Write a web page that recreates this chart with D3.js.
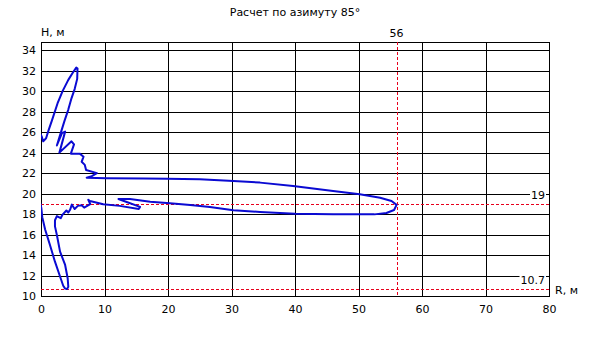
<!DOCTYPE html>
<html>
<head>
<meta charset="utf-8">
<script src="https://cdn.jsdelivr.net/npm/d3@7"></script>
<style>
  body { margin: 0; background: #fff; }
  text { font-family: "DejaVu Sans", sans-serif; font-size: 11px; fill: #000; }
</style>
</head>
<body>
<div id="canvas"></div>
<script>
"use strict"

/* Data */
let xTicks = [0, 10, 20, 30, 40, 50, 60, 70, 80];
let yTicks = [10, 12, 14, 16, 18, 20, 22, 24, 26, 28, 30, 32, 34];
let markR = [56];
let markH = [19, 10.7];

/* pattern outline, R (m) and H (m), walked round once */
let patternR = [0.1, 0.35, 0.8, 1.2, 1.7, 2.6, 3.4, 4.3, 5.0, 5.55,
    5.75, 5.7, 5.3, 4.8, 4.3, 3.7, 3.1, 2.5, 3.3, 3.8,
    2.9, 4.8, 5.2, 4.7, 6.1, 6.7, 6.4, 6.9, 7.1, 8.8,
    8.0, 7.2, 10.3, 16.1, 19.8, 25.0, 30.3, 34.5, 39.7, 46.0,
    50.2, 53.4, 55.2, 56.0, 55.6, 54.4, 52.5, 46.0, 40.0, 34.5,
    30.3, 26.6, 23.5, 20.3, 17.2, 14.0, 12.2, 13.6, 15.6, 15.4,
    12.4, 9.8, 7.7, 7.45, 7.75, 6.8, 6.4, 5.8, 5.3, 4.85,
    4.6, 4.3, 4.0, 3.4, 3.1, 2.5, 2.2, 2.2, 2.5, 3.0,
    3.8, 4.2, 4.3, 4.1, 3.8, 3.5, 3.0, 2.2, 1.4, 0.65,
    0.2, 0.05, -0.2, -2.5, -0.2];
let patternH = [25.6, 25.1, 25.4, 26.2, 27.1, 28.8, 30.0, 31.1, 31.8, 32.3,
    32.2, 31.2, 30.2, 29.3, 28.2, 27.1, 25.9, 24.7, 25.9, 26.05,
    24.0, 25.1, 24.8, 23.9, 23.9, 23.6, 23.1, 22.8, 22.3, 22.0,
    21.7, 21.55, 21.5, 21.47, 21.45, 21.4, 21.23, 21.07, 20.75, 20.25,
    19.93, 19.6, 19.28, 18.9, 18.4, 18.1, 17.97, 17.97, 18.02, 18.2,
    18.38, 18.7, 18.89, 19.05, 19.2, 19.47, 19.47, 19.15, 18.7, 18.5,
    18.8, 18.95, 19.28, 19.4, 18.98, 18.63, 18.85, 18.8, 18.5, 18.92,
    18.45, 18.15, 18.35, 17.95, 17.6, 17.8, 17.4, 16.8, 15.96, 14.33,
    13.03, 11.73, 10.9, 10.68, 10.72, 11.0, 11.9, 13.35, 15.0, 16.5,
    17.7, 18.6, 19.3, 22.5, 25.9];

let drawing = d3.select("#canvas")
    .append("svg")
    .attr("width", 590)
    .attr("height", 337);

/* Plot box */
let boxLeft = 41, boxRight = 549, boxTop = 42, boxBottom = 296;

let x = d3.scaleLinear().domain([0, 80]).range([boxLeft, boxRight]);
let y = d3.scaleLinear().domain([10, 34.8]).range([boxBottom, boxTop]);

/* Title and axis names */
drawing.append("text")
    .attr("x", 295)
    .attr("y", 16)
    .attr("text-anchor", "middle")
    .text("Расчет по азимуту 85°");

drawing.append("text")
    .attr("x", 41)
    .attr("y", 36)
    .text("H, м");

drawing.append("text")
    .attr("x", 555)
    .attr("y", 294)
    .text("R, м");

/* Grid */
let crisp = v => Math.round(v) + 0.5;

drawing.append("g").selectAll("line")
    .data(xTicks)
    .join("line")
    .attr("x1", d => crisp(x(d)))
    .attr("x2", d => crisp(x(d)))
    .attr("y1", boxTop)
    .attr("y2", boxBottom)
    .attr("stroke", "black");

drawing.append("g").selectAll("line")
    .data(yTicks)
    .join("line")
    .attr("x1", boxLeft)
    .attr("x2", boxRight)
    .attr("y1", d => crisp(y(d)))
    .attr("y2", d => crisp(y(d)))
    .attr("stroke", "black");

let border = drawing.append("rect")
    .attr("x", crisp(boxLeft))
    .attr("y", crisp(boxTop))
    .attr("width", boxRight - boxLeft)
    .attr("height", boxBottom - boxTop)
    .attr("fill", "none")
    .attr("stroke", "black");

/* Tick labels */
let xAxis = drawing.append("g")
    .attr("transform", "translate(0," + boxBottom + ")")
    .call(d3.axisBottom(x).tickValues(xTicks).tickSize(0).tickPadding(9));

let yAxis = drawing.append("g")
    .attr("transform", "translate(" + boxLeft + ",0)")
    .call(d3.axisLeft(y).tickValues(yTicks).tickSize(0).tickPadding(5));

drawing.selectAll(".domain").remove();
drawing.selectAll(".tick text")
    .attr("font-family", null)
    .attr("font-size", null)
    .attr("fill", "black");

/* Clip the pattern to the plot box */
drawing.append("clipPath")
    .attr("id", "plotClip")
    .append("rect")
    .attr("x", boxLeft)
    .attr("y", boxTop)
    .attr("width", boxRight - boxLeft)
    .attr("height", boxBottom - boxTop);

/* Red dashed marker lines */
drawing.append("g").selectAll("line")
    .data(markR)
    .join("line")
    .attr("x1", d => crisp(x(d)))
    .attr("x2", d => crisp(x(d)))
    .attr("y1", boxTop)
    .attr("y2", boxBottom)
    .attr("stroke", "#e8001c")
    .attr("stroke-dasharray", "3,2");

drawing.append("g").selectAll("line")
    .data(markH)
    .join("line")
    .attr("x1", boxLeft)
    .attr("x2", boxRight)
    .attr("y1", d => crisp(y(d)))
    .attr("y2", d => crisp(y(d)))
    .attr("stroke", "#e8001c")
    .attr("stroke-dasharray", "3,2");

/* Pattern outline */
let points = patternR.map((r, i) => [r, patternH[i]]);

let pattern = drawing.append("path")
    .datum(points)
    .attr("clip-path", "url(#plotClip)")
    .attr("d", d3.line().x(d => x(d[0])).y(d => y(d[1])).curve(d3.curveLinearClosed))
    .attr("fill", "none")
    .attr("stroke", "#0a0ad2")
    .attr("stroke-width", 2)
    .attr("stroke-linejoin", "round");

/* Marker labels */
drawing.append("g").selectAll("text")
    .data(markR)
    .join("text")
    .attr("x", d => x(d))
    .attr("y", 37)
    .attr("text-anchor", "middle")
    .text(d => d);

let hLabels = drawing.append("g").selectAll("g")
    .data(markH)
    .join("g");

hLabels.append("rect")
    .attr("fill", "white");

hLabels.append("text")
    .attr("x", boxRight - 4)
    .attr("y", d => y(d) - 5)
    .attr("text-anchor", "end")
    .text(d => d);

hLabels.each(function () {
    let box = d3.select(this).select("text").node().getBBox();
    d3.select(this).select("rect")
        .attr("x", box.x - 1)
        .attr("y", box.y + 1)
        .attr("width", box.width + 2)
        .attr("height", box.height - 2);
});
</script>
</body>
</html>
